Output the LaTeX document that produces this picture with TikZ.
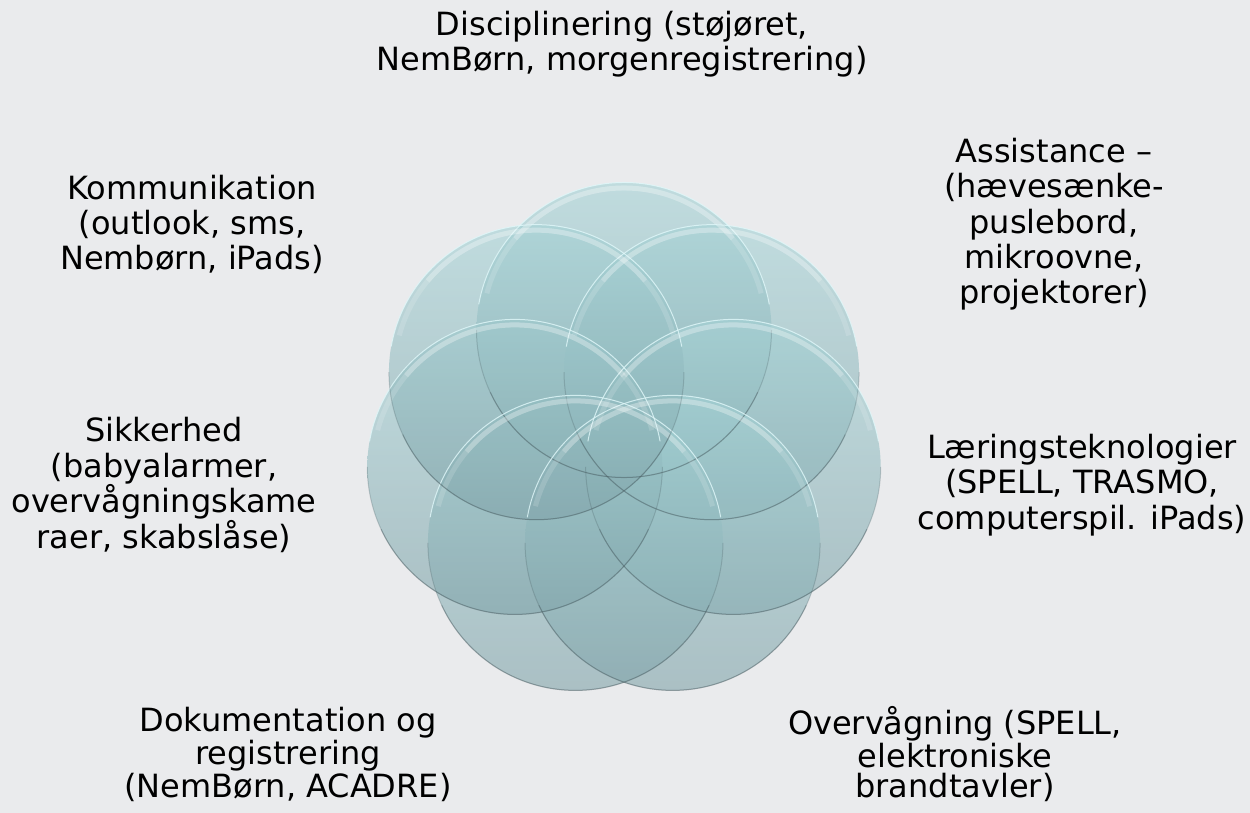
\documentclass[tikz,border=0pt]{standalone}
\usepackage{fontspec}
\setmainfont{DejaVu Sans}
\usetikzlibrary{calc}
\definecolor{bg}{RGB}{234,235,237}
\definecolor{ctop}{RGB}{164,210,213}
\definecolor{cmid}{RGB}{154,202,206}
\definecolor{cbot}{RGB}{128,163,169}
\definecolor{rimdark}{RGB}{70,90,95}
\definecolor{rimlight}{RGB}{225,248,250}
\tikzset{
  venn/.style={circle, minimum size=147.5pt, inner sep=0pt, outer sep=0pt,
    top color=ctop, middle color=cmid, bottom color=cbot, fill opacity=0.6, draw=none},
  lbl/.style={font=\fontsize{16}{17.7}\selectfont, align=center, anchor=base, text=black},
  lblb/.style={lbl, font=\fontsize{16}{15}\selectfont},
  rimd/.style={rimdark, line width=0.5pt},
  riml/.style={rimlight, opacity=0.8, line width=0.5pt},
  hilite/.style={white, line width=2.5pt},
}
\begin{document}
\begin{tikzpicture}[x=0.5pt,y=-0.5pt]
\fill[bg] (0,0) rectangle (1250,813);
\useasboundingbox (0,0) rectangle (1250,813);
\coordinate (cen) at (624,442);
\foreach \i/\a in {0/90,1/38.57,2/-12.86,3/-64.29,4/-115.71,5/-167.14,6/141.43}{
  \node[venn] (c\i) at ([shift={(\a:56pt)}]cen) {};
}
\foreach \i in {0,...,6}{
  \draw[rimd, opacity=0.25] ([shift={(180:73.75pt)}]c\i.center) arc[start angle=180, end angle=360, radius=73.75pt];
  \draw[rimd, opacity=0.35] ([shift={(205:73.75pt)}]c\i.center) arc[start angle=205, end angle=335, radius=73.75pt];
  \draw[riml] ([shift={(10:73.75pt)}]c\i.center) arc[start angle=10, end angle=170, radius=73.75pt];
  \draw[hilite, opacity=0.15] ([shift={(165:71pt)}]c\i.center) arc[start angle=165, end angle=15, radius=71pt];
  \draw[hilite, opacity=0.2] ([shift={(140:71pt)}]c\i.center) arc[start angle=140, end angle=40, radius=71pt];
}
\node[lbl] (t0) at (622,71) {Disciplinering (støjøret,\\NemBørn, morgenregistrering)};
\node[lbl] (t1) at (1054,304) {Assistance –\\(hævesænke-\\puslebord,\\mikroovne,\\projektorer)};
\node[lbl] (t2) at (1082,529) {Læringsteknologier\\(SPELL, TRASMO,\\computerspil. iPads)};
\node[lblb] (t3) at (955,797) {Overvågning (SPELL,\\elektroniske\\brandtavler)};
\node[lblb] (t4) at (288,797) {Dokumentation og\\registrering\\(NemBørn, ACADRE)};
\node[lbl] (t5) at (164,548) {Sikkerhed\\(babyalarmer,\\overvågningskame\\raer, skabslåse)};
\node[lbl] (t6) at (192,270) {Kommunikation\\(outlook, sms,\\Nembørn, iPads)};
\end{tikzpicture}
\end{document}
